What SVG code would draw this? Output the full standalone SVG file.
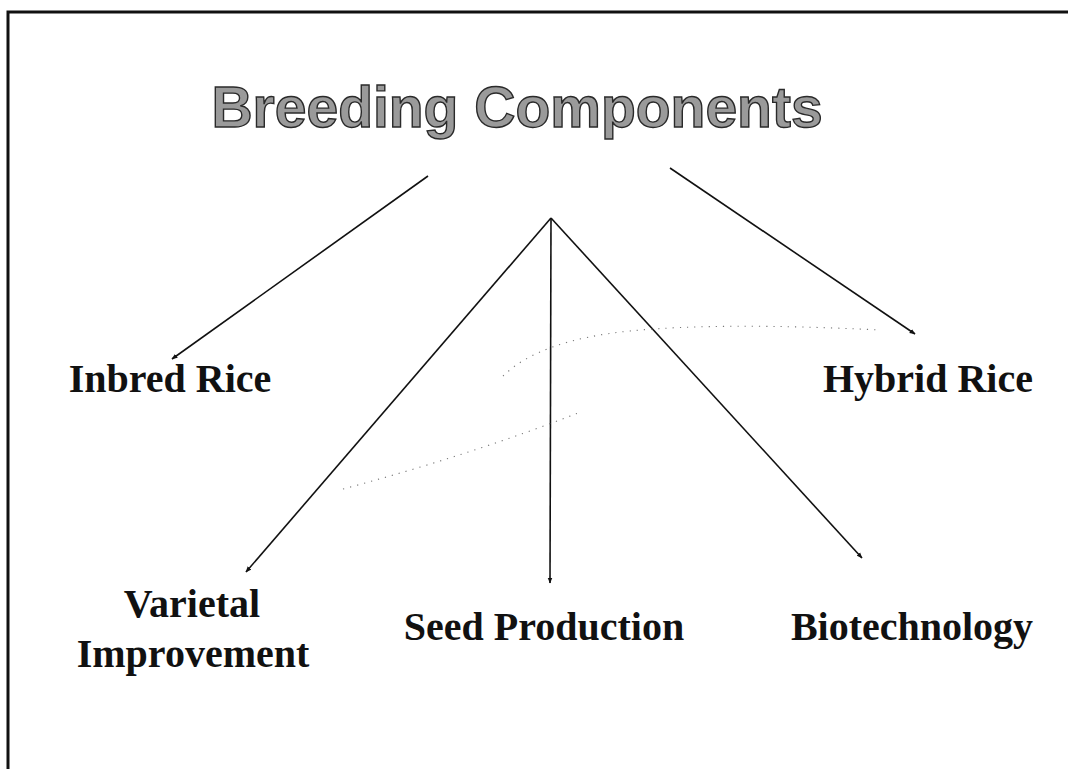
<svg xmlns="http://www.w3.org/2000/svg" width="1068" height="769" viewBox="0 0 1068 769">
<style>
.lbl{font-family:"Liberation Serif","Times New Roman",serif;font-weight:bold;font-size:40px;fill:#111;text-anchor:middle}
.title{font-family:"Liberation Sans",Arial,sans-serif;font-weight:bold;font-size:57px;fill:#9a9a9a;stroke:#2a2a2a;stroke-width:1.4;text-anchor:middle}
.ln{stroke:#111;stroke-width:1.6;fill:none}
.dot{stroke:#777;stroke-width:1.1;fill:none;stroke-dasharray:1.2 6}
</style>
<defs>
<marker id="ah" viewBox="0 0 10 10" refX="9" refY="5" markerWidth="6" markerHeight="6" orient="auto" markerUnits="userSpaceOnUse">
<path d="M0,1 L10,5 L0,9 Z" fill="#111"/>
</marker>
</defs>
<rect width="1068" height="769" fill="#fff"/>
<g id="frame">
<path d="M8,769 V12 H1068" fill="none" stroke="#111" stroke-width="3"/>
</g>
<g id="title"><text class="title" x="517" y="127">Breeding Components</text></g>
<g id="connectors">
<line class="ln" x1="428" y1="176" x2="172" y2="359" marker-end="url(#ah)"/>
<line class="ln" x1="670" y1="168" x2="915" y2="334" marker-end="url(#ah)"/>
<line class="ln" x1="551" y1="218" x2="246" y2="572" marker-end="url(#ah)"/>
<line class="ln" x1="551" y1="218" x2="550" y2="583" marker-end="url(#ah)"/>
<line class="ln" x1="551" y1="218" x2="862" y2="558" marker-end="url(#ah)"/>
<path class="dot" d="M503,376 Q540,340 630,331 Q720,322 880,330"/>
<path class="dot" d="M343,489 Q470,455 578,413"/>
</g>
<g id="inbred"><text class="lbl" x="170" y="392">Inbred Rice</text></g>
<g id="hybrid"><text class="lbl" x="928" y="392">Hybrid Rice</text></g>
<g id="varietal"><text class="lbl" x="192" y="617">Varietal</text><text class="lbl" x="193" y="667">Improvement</text></g>
<g id="seed"><text class="lbl" x="544" y="640">Seed Production</text></g>
<g id="biotech"><text class="lbl" x="912" y="640">Biotechnology</text></g>
</svg>
